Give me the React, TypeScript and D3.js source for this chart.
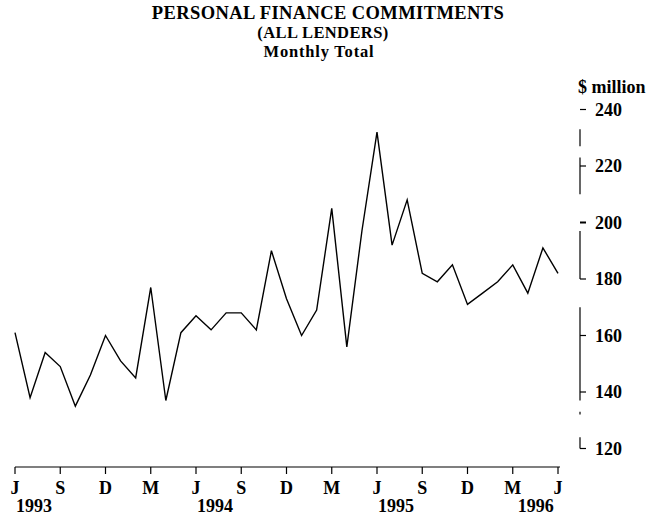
import React from 'react';
import * as d3 from 'd3';

// monthly totals, $ million, June 1993 .. June 1996
const months = [
  'Jun93', 'Jul93', 'Aug93', 'Sep93', 'Oct93', 'Nov93', 'Dec93',
  'Jan94', 'Feb94', 'Mar94', 'Apr94', 'May94', 'Jun94', 'Jul94', 'Aug94', 'Sep94', 'Oct94', 'Nov94', 'Dec94',
  'Jan95', 'Feb95', 'Mar95', 'Apr95', 'May95', 'Jun95', 'Jul95', 'Aug95', 'Sep95', 'Oct95', 'Nov95', 'Dec95',
  'Jan96', 'Feb96', 'Mar96', 'Apr96', 'May96', 'Jun96',
];
const commitments = [
  161, 138, 154, 149, 135, 146, 160,
  151, 145, 177, 137, 161, 167, 162, 168, 168, 162, 190, 173,
  160, 169, 205, 156, 197, 232, 192, 208, 182, 179, 185, 171,
  175, 179, 185, 175, 191, 182,
];

const quarterLabels = ['J', 'S', 'D', 'M', 'J', 'S', 'D', 'M', 'J', 'S', 'D', 'M', 'J'];
const yearLabels = ['1993', '1994', '1995', '1996'];
const yearMonthIndex = [0, 12, 24, 33];
const yTicks = [240, 220, 200, 180, 160, 140, 120];
// pieces of the right-hand axis that show in the print (value ranges)
const yAxisRuns = [[233, 227], [223, 210], [197, 180], [170, 137], [133, 132], [124, 120]];

const titleLines = ['PERSONAL FINANCE COMMITMENTS', '(ALL LENDERS)', 'Monthly Total'];

const W = 654;
const H = 520;
const font = '"Liberation Serif", "Times New Roman", serif';

export default function App() {
  const x = d3.scaleLinear().domain([0, months.length - 1]).range([15, 558]);
  const y = d3.scaleLinear().domain([120, 240]).range([448.5, 109.5]);
  const axisX = 580;
  const baseY = 467;

  const line = d3.line<number>()
    .x((_, i) => x(i))
    .y(d => y(d));

  return (
    <svg width={W} height={H} style={{ position: 'absolute', left: 0, top: 0, background: '#fff' }}
      fontFamily={font} fontWeight="bold" fill="#000">
      {/* title */}
      <text x={328} y={18.5} textAnchor="middle" fontSize={18.5} letterSpacing={0.4}>{titleLines[0]}</text>
      <text x={323} y={37.5} textAnchor="middle" fontSize={16.5} letterSpacing={0.4}>{titleLines[1]}</text>
      <text x={319} y={56.5} textAnchor="middle" fontSize={16.5} letterSpacing={0.8}>{titleLines[2]}</text>

      {/* y axis on the right */}
      <text x={578} y={93} fontSize={18}>$ million</text>
      {yAxisRuns.map(([a, b], i) => (
        <line key={'run' + i} x1={axisX} x2={axisX} y1={y(a)} y2={y(b)} stroke="#000" strokeWidth={1.2} />
      ))}
      {yTicks.map(t => (
        <g key={t}>
          <line x1={axisX} x2={axisX + 6} y1={y(t)} y2={y(t)} stroke="#000" strokeWidth={t === 200 ? 2 : 1.2} />
          <text x={595} y={y(t)} dy="0.35em" fontSize={18}>{t}</text>
        </g>
      ))}

      {/* x axis */}
      <line x1={x(0)} x2={x(months.length - 1) + 2} y1={baseY} y2={baseY} stroke="#000" strokeWidth={1.2} />
      {quarterLabels.map((lab, i) => (
        <g key={'q' + i}>
          <line x1={x(i * 3)} x2={x(i * 3)} y1={baseY} y2={baseY + 7} stroke="#000" strokeWidth={1.2} />
          <text x={x(i * 3)} y={494} textAnchor="middle" fontSize={18}>{lab}</text>
        </g>
      ))}
      {yearLabels.map((yr, i) => (
        <text key={yr} x={x(yearMonthIndex[i]) + (i === 3 ? 5 : 1)} y={512} fontSize={18}>{yr}</text>
      ))}

      {/* series */}
      <path d={line(commitments) || ''} fill="none" stroke="#000" strokeWidth={1.4} strokeLinejoin="miter" />
    </svg>
  );
}
